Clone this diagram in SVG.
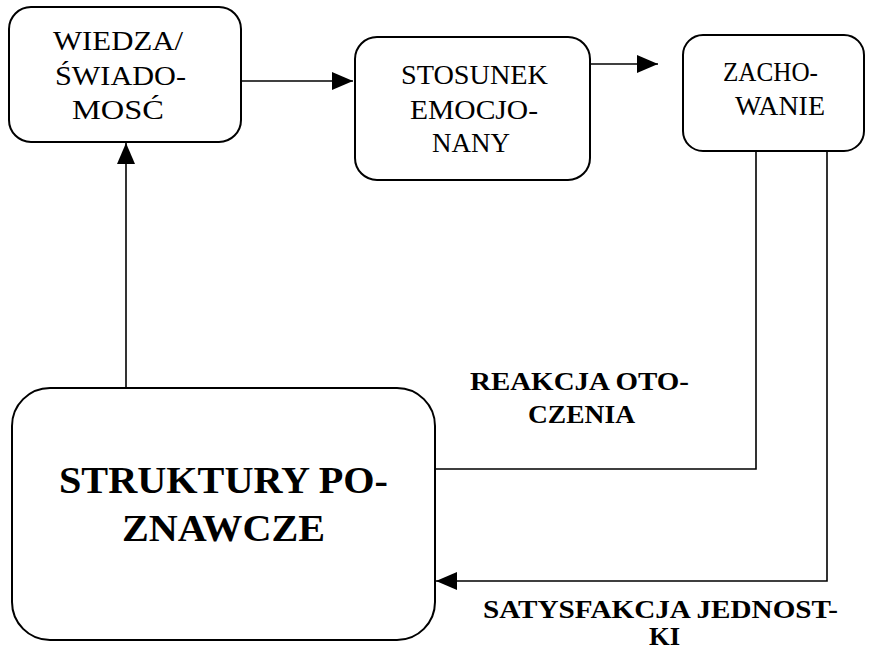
<svg xmlns="http://www.w3.org/2000/svg" width="872" height="652" viewBox="0 0 872 652">
<style>
.box{fill:#fff;stroke:#000;stroke-width:2}
.ln{fill:none;stroke:#000;stroke-width:1.6}
.t{font-family:"Liberation Serif","Times New Roman",serif;font-size:28px;fill:#000}
.b{font-family:"Liberation Serif","Times New Roman",serif;font-weight:bold;fill:#000}
</style>
<defs>
<marker id="ah" viewBox="0 0 21 18" refX="21" refY="9" markerWidth="21" markerHeight="18" markerUnits="userSpaceOnUse" orient="auto">
<path d="M0,0 L21,9 L0,18 Z" fill="#000"/>
</marker>
</defs>
<rect width="872" height="652" fill="#fff"/>
<g id="connectors">
<line class="ln" x1="241" y1="81" x2="353" y2="81" marker-end="url(#ah)"/>
<line class="ln" x1="590" y1="64" x2="658" y2="64" marker-end="url(#ah)"/>
<line class="ln" x1="126" y1="388" x2="126" y2="143" marker-end="url(#ah)"/>
<polyline class="ln" points="756,117 756,469 435,469"/>
<polyline class="ln" points="827,117 827,581 436,581" marker-end="url(#ah)"/>
</g>
<g id="wiedza">
<rect class="box" x="9" y="7" width="232" height="135" rx="22"/>
<text class="t" x="53" y="50" textLength="130" lengthAdjust="spacingAndGlyphs">WIEDZA/</text>
<text class="t" x="55" y="85" textLength="131" lengthAdjust="spacingAndGlyphs">ŚWIADO-</text>
<text class="t" x="72" y="119" textLength="92" lengthAdjust="spacingAndGlyphs">MOSĆ</text>
</g>
<g id="stosunek">
<rect class="box" x="355" y="37" width="235" height="143" rx="22"/>
<text class="t" x="401" y="84" textLength="147" lengthAdjust="spacingAndGlyphs">STOSUNEK</text>
<text class="t" x="410" y="119" textLength="128" lengthAdjust="spacingAndGlyphs">EMOCJO-</text>
<text class="t" x="432" y="152" textLength="78" lengthAdjust="spacingAndGlyphs">NANY</text>
</g>
<g id="zachowanie">
<rect class="box" x="683" y="35" width="181" height="116" rx="20"/>
<text class="t" x="723" y="81" textLength="95" lengthAdjust="spacingAndGlyphs">ZACHO-</text>
<text class="t" x="735" y="115" textLength="90" lengthAdjust="spacingAndGlyphs">WANIE</text>
</g>
<g id="struktury">
<rect class="box" x="12" y="388" width="423" height="252" rx="38"/>
<text class="b" x="59" y="493" font-size="38" textLength="329" lengthAdjust="spacingAndGlyphs">STRUKTURY PO-</text>
<text class="b" x="122" y="541" font-size="38" textLength="203" lengthAdjust="spacingAndGlyphs">ZNAWCZE</text>
</g>
<g id="labels">
<text class="b" x="470" y="390" font-size="26" textLength="219" lengthAdjust="spacingAndGlyphs">REAKCJA OTO-</text>
<text class="b" x="528" y="423" font-size="26" textLength="107" lengthAdjust="spacingAndGlyphs">CZENIA</text>
<text class="b" x="483" y="618" font-size="26" textLength="355" lengthAdjust="spacingAndGlyphs">SATYSFAKCJA JEDNOST-</text>
<text class="b" x="649" y="645" font-size="26" textLength="31" lengthAdjust="spacingAndGlyphs">KI</text>
</g>
</svg>
